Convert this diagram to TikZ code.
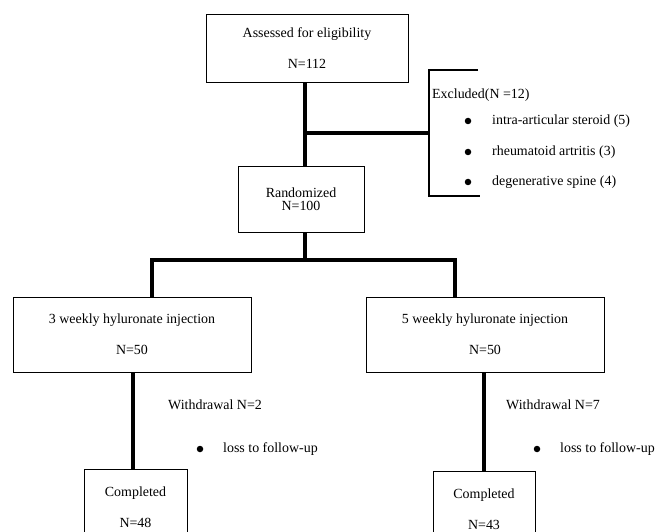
\documentclass[tikz,border=0pt]{standalone}
\usepackage{fontspec}
\setmainfont{Liberation Serif}
\usetikzlibrary{positioning}

\begin{document}
\begin{tikzpicture}[x=1bp,y=-1bp,
    box/.style={draw,line width=0.8bp,inner sep=0pt,align=center,font=\fontsize{14}{16}\selectfont},
    flow/.style={line width=3.6bp},
    bracket/.style={line width=1.5bp},
    txt/.style={anchor=west,inner sep=0pt,font=\fontsize{14}{16}\selectfont},
    dot/.style={circle,fill,inner sep=0pt,minimum size=6.5bp}]
    \useasboundingbox (0,0) rectangle (668,532);
    \clip (0,0) rectangle (668,532);
    % boxes
    \node[box,minimum width=202bp,minimum height=68bp] (assess) at (307,48) {Assessed for eligibility\\[15bp]N=112};
    \node[box,minimum width=126bp,minimum height=66bp] (rand) at (301,199) {Randomized\\[-3bp]N=100};
    \node[box,minimum width=238bp,minimum height=75bp] (arm3) at (132,334.5) {3 weekly hyluronate injection\\[15bp]N=50};
    \node[box,minimum width=238bp,minimum height=75bp] (arm5) at (485,334.5) {5 weekly hyluronate injection\\[15bp]N=50};
    \node[box,minimum width=103bp,minimum height=76bp] (done3) at (135.5,507) {Completed\\[15bp]N=48};
    \node[box,minimum width=102bp,minimum height=76bp] (done5) at (484,509) {Completed\\[15bp]N=43};
    % excluded
    \coordinate (mainjoin) at (305,133);
    \coordinate (exjoin) at (429,133);
    \coordinate (brtop) at (478,70);
    \coordinate (brbot) at (480,196);
    \draw[bracket] (brtop) -| (exjoin) |- (brbot);
    \node[txt] (exhead) at (432,95) {Excluded(N =12)};
    \node[dot] (b1) at (468,121) {};
    \node[dot] (b2) at (468,152) {};
    \node[dot] (b3) at (468,182) {};
    \node[txt] (ex1) at (492,121) {intra-articular steroid (5)};
    \node[txt] (ex2) at (492,152) {rheumatoid artritis (3)};
    \node[txt] (ex3) at (492,182) {degenerative spine (4)};
    % withdrawals
    \node[txt] (wd3) at (168,405) {Withdrawal N=2};
    \node[dot] (wb3) at (200,449) {};
    \node[txt] (lf3) at (223,449) {loss to follow-up};
    \node[txt] (wd5) at (506,405) {Withdrawal N=7};
    \node[dot] (wb5) at (537,449) {};
    \node[txt] (lf5) at (560,449) {loss to follow-up};
    % flow lines
    \coordinate (split) at (305,260);
    \draw[flow] (mainjoin |- assess.south) -- (mainjoin |- rand.north);
    \draw[flow] (mainjoin) -- (exjoin);
    \draw[flow] (split |- rand.south) -- (split);
    \draw[flow] ([xshift=20bp]arm3.north) |- (split) -| ([xshift=-30bp]arm5.north);
    \draw[flow] ([xshift=1bp]arm3.south) -- ([xshift=1bp]arm3.south |- done3.north);
    \draw[flow] ([xshift=-1bp]arm5.south) -- ([xshift=-1bp]arm5.south |- done5.north);
\end{tikzpicture}
\end{document}
